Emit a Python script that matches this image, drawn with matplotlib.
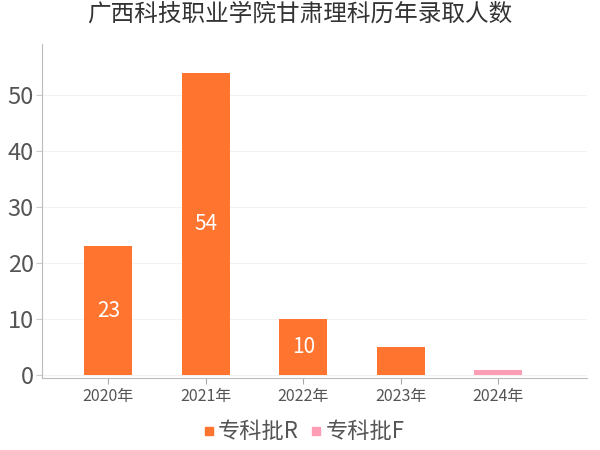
import matplotlib
matplotlib.use('Agg')
import matplotlib.pyplot as plt
from matplotlib.lines import Line2D

plt.rcParams['font.family'] = ['Noto Sans CJK SC', 'DejaVu Sans']

years = ['2020年', '2021年', '2022年', '2023年', '2024年']
series_r = [23, 54, 10, 5, 0]
series_f = [0, 0, 0, 0, 1]
labels_r = ['23', '54', '10', '', '']

color_r = '#ff7530'
color_f = '#ff9db5'

fig = plt.figure(figsize=(6, 4.5), dpi=100)
ax = fig.add_axes([0.07, 0.16, 0.908, 0.742])

x = list(range(len(years)))
bars_r = ax.bar(x, series_r, width=0.49, color=color_r, zorder=3)
ax.bar(x, series_f, width=0.49, color=color_f, zorder=3)

for b, lab in zip(bars_r, labels_r):
    if lab:
        ax.text(b.get_x() + b.get_width() / 2, b.get_height() / 2, lab,
                ha='center', va='center', color='white', fontsize=15, zorder=4)

ax.set_xlim(-0.68, 4.91)
ax.set_ylim(-0.5, 59.1)
ax.set_yticks([0, 10, 20, 30, 40, 50])
ax.set_xticks(x)
ax.set_xticklabels(years)
ax.tick_params(axis='y', labelsize=17, labelcolor='#555555', length=4, color='#cccccc', pad=2)
ax.tick_params(axis='x', labelsize=11.5, labelcolor='#555555', length=4, color='#aaaaaa')
ax.grid(axis='y', color='#f2f2f2', linewidth=0.8, zorder=0)

for s in ['top', 'right']:
    ax.spines[s].set_visible(False)
ax.spines['left'].set_color('#bbbbbb')
ax.spines['bottom'].set_color('#bbbbbb')

fig.suptitle('广西科技职业学院甘肃理科历年录取人数', y=0.995, fontsize=17, color='#333333')

handles = [
    Line2D([], [], marker='s', linestyle='none', color=color_r, markersize=6, label='专科批R'),
    Line2D([], [], marker='s', linestyle='none', color=color_f, markersize=6, label='专科批F'),
]
fig.legend(handles=handles, loc='lower center', bbox_to_anchor=(0.5, -0.03), ncol=2,
           frameon=False, fontsize=16, handletextpad=-0.2, columnspacing=0.2,
           handlelength=1.2, labelcolor='#555555')

fig.savefig('out.png', dpi=100)
